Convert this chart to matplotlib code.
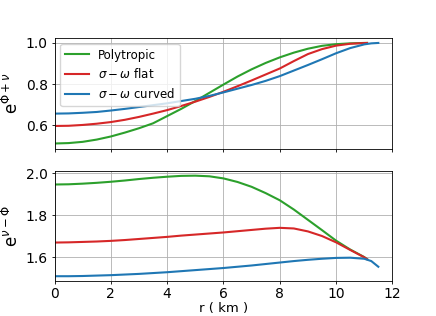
import matplotlib
matplotlib.use("Agg")
import matplotlib.pyplot as plt

# radial grid (km)
r_base = [0, 0.5, 1, 1.5, 2, 2.5, 3, 3.5, 4, 4.5, 5, 5.5, 6, 6.5, 7, 7.5,
          8, 8.5, 9, 9.5, 10, 10.5, 11]
r_poly = r_base + [11.1]
r_flat = r_base + [11.1]
r_curv = r_base + [11.25, 11.5]

# e^{Phi+nu}
top_poly = [0.512, 0.514, 0.520, 0.531, 0.546, 0.565, 0.586, 0.610, 0.645, 0.680,
            0.718, 0.758, 0.798, 0.837, 0.872, 0.903, 0.930, 0.953, 0.972, 0.986,
            0.994, 0.998, 1.0, 1.0]
top_flat = [0.597, 0.598, 0.602, 0.608, 0.616, 0.627, 0.641, 0.657, 0.674, 0.694,
            0.715, 0.738, 0.763, 0.790, 0.818, 0.847, 0.876, 0.912, 0.946, 0.970,
            0.987, 0.996, 0.9995, 1.0]
top_curv = [0.657, 0.658, 0.661, 0.665, 0.672, 0.680, 0.689, 0.698, 0.707, 0.718,
            0.729, 0.743, 0.760, 0.778, 0.796, 0.816, 0.839, 0.866, 0.893, 0.921,
            0.950, 0.975, 0.993, 0.998, 1.0]

# e^{nu-Phi}
bot_poly = [1.947, 1.948, 1.951, 1.955, 1.960, 1.966, 1.973, 1.979, 1.984, 1.988,
            1.989, 1.986, 1.976, 1.959, 1.936, 1.906, 1.872, 1.828, 1.779, 1.730,
            1.680, 1.638, 1.602, 1.592]
bot_flat = [1.671, 1.672, 1.674, 1.676, 1.679, 1.683, 1.688, 1.693, 1.698, 1.704,
            1.709, 1.714, 1.719, 1.725, 1.731, 1.737, 1.741, 1.738, 1.724, 1.702,
            1.672, 1.636, 1.601, 1.592]
bot_curv = [1.511, 1.511, 1.512, 1.514, 1.516, 1.519, 1.522, 1.526, 1.530, 1.535,
            1.540, 1.545, 1.550, 1.556, 1.562, 1.569, 1.576, 1.583, 1.589, 1.594,
            1.598, 1.599, 1.594, 1.583, 1.556]

labels = ["Polytropic", r"$\sigma-\omega$ flat", r"$\sigma-\omega$ curved"]
colors = ["tab:green", "tab:red", "tab:blue"]

plt.rcParams.update({
    "xtick.major.size": 2.4, "ytick.major.size": 2.4,
    "xtick.major.pad": 2.0, "ytick.major.pad": 2.4,
    "xtick.major.width": 0.6, "ytick.major.width": 0.6,
    "axes.linewidth": 0.6, "axes.labelpad": 2.7,
    "grid.linewidth": 0.6,
})

fig, (ax1, ax2) = plt.subplots(2, 1, sharex=True, figsize=(4.36, 3.16), dpi=100)

ax1.plot(r_poly, top_poly, color=colors[0], label=labels[0])
ax1.plot(r_flat, top_flat, color=colors[1], label=labels[1])
ax1.plot(r_curv, top_curv, color=colors[2], label=labels[2])
ax1.set_ylabel(r"e$^{\Phi+\nu}$", fontsize=12)
ax1.grid(True)
ax1.legend(loc="upper left", fontsize=8.5)

ax2.plot(r_poly, bot_poly, color=colors[0])
ax2.plot(r_flat, bot_flat, color=colors[1])
ax2.plot(r_curv, bot_curv, color=colors[2])
ax2.set_ylabel(r"e$^{\nu-\Phi}$", fontsize=12)
ax2.set_xlabel("r ( km )", fontsize=9.5, labelpad=0.5)
ax2.grid(True)
ax2.set_xlim(0, 12)

fig.savefig("out.png", dpi=100)
